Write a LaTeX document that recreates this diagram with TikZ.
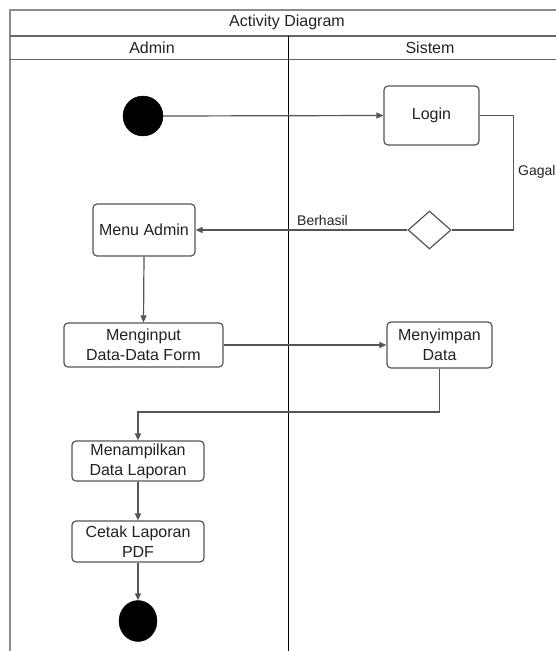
\documentclass[tikz,border=0pt]{standalone}
\usepackage{fontspec}
\setmainfont{Liberation Sans}
\usetikzlibrary{arrows.meta,shapes.geometric}
\definecolor{lin}{HTML}{555555}
\definecolor{txt}{HTML}{222222}
\begin{document}
\begin{tikzpicture}[x=1pt,y=-1pt,
  font=\fontsize{16}{20}\selectfont, text=txt,
  act/.style={draw=lin, line width=1.2pt, rounded corners=4pt, inner sep=0pt, align=center, fill=white},
  conn/.style={draw=lin, line width=1.2pt},
  arr/.style={conn, -{Triangle[length=7pt,width=6pt]}},
  blob/.style={circle, fill=black, draw=black, inner sep=0pt, minimum size=40pt},
  lbl/.style={font=\fontsize{14}{17}\selectfont, inner sep=0pt},
  lane/.style={inner sep=0pt}]
\useasboundingbox (0,0) rectangle (555,651);
% frame
\draw[draw=black!45, line width=2pt] (10,651) -- (10,10) -- (570,10);
\draw[draw=black!60, line width=1.6pt] (10,36) -- (570,36);
\draw[draw=black!60, line width=1.6pt] (10,59.5) -- (570,59.5);
\draw[draw=black, line width=0.9pt] (288,36) -- (288,651);
\node[lane] (title) at (287,22) {Activity Diagram};
\node[lane] (admin) at (152,47.5) {Admin};
\node[lane] (sistem) at (430,47.5) {Sistem};
% nodes
\node[blob] (start) at (143,116) {};
\node[act, minimum width=95pt, minimum height=59pt] (login) at (431.5,115.5) {Login};
\node[draw=lin, line width=1.2pt, diamond, aspect=1.13, inner sep=0pt, minimum width=43pt, minimum height=38pt, fill=white] (dec) at (429.5,230) {};
\node[act, minimum width=102pt, minimum height=52pt] (menu) at (144,230) {Menu Admin};
\node[act, minimum width=159pt, minimum height=44pt] (input) at (143.5,345) {Menginput\\Data-Data Form};
\node[act, minimum width=105pt, minimum height=46pt] (save) at (439.5,345) {Menyimpan\\Data};
\node[act, minimum width=132pt, minimum height=40pt] (disp) at (138,461) {Menampilkan\\Data Laporan};
\node[act, minimum width=132pt, minimum height=41pt] (print) at (138,541.5) {Cetak Laporan\\PDF};
\node[blob, minimum width=38pt, minimum height=41pt, ellipse] (end) at (138,621) {};
% connectors
\draw[arr] (start.east) -- (login.west);
\draw[conn] (login.east) -- ++(34,0) |- (dec.east);
\node[lbl, anchor=west] (gagal) at (518,172) {Gagal};
\draw[arr] (dec.west) -- (menu.east);
\node[lbl, anchor=base west] (berhasil) at (297,225) {Berhasil};
\draw[arr] (menu.south) -- (input.north);
\draw[arr] (input.east) -- (save.west);
\draw[arr] (save.south) -- (save.south |- 0,412) -| (disp.north);
\draw[arr] (disp.south) -- (print.north);
\draw[arr] (print.south) -- (end.north);
\end{tikzpicture}
\end{document}
